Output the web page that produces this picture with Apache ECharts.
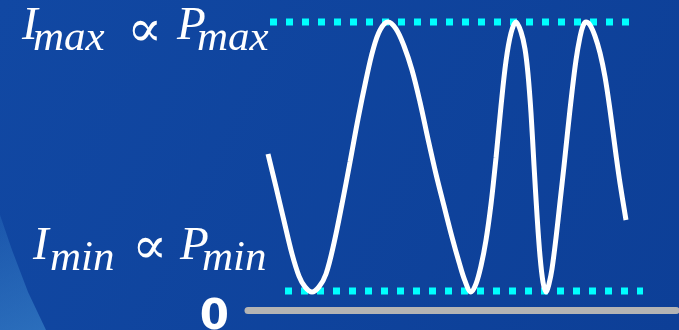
<!DOCTYPE html>
<html>
<head>
<meta charset="utf-8">
<script src="https://cdn.jsdelivr.net/npm/echarts@6/dist/echarts.min.js"></script>
<style>
    html, body { margin: 0; padding: 0; }
    #chart { width: 679px; height: 330px; }
</style>
</head>
<body>
<div id="chart"></div>
<script>
// curve (time and intensity in arbitrary units)
var timeValues = [5, 7, 9, 11, 12.75, 14.25, 16, 17.75, 19.5, 21.5, 23.5, 25.5, 27.5, 29.5, 31.25, 33, 35,
    37, 39, 41, 43, 45, 47, 49, 51, 52.75, 54.25, 55.75,
    57, 58.25, 59.5, 60.75, 62, 63.25, 64.5, 65.75, 67,
    68.25, 69.25, 70, 70.75, 71.5, 72.25, 73, 73.75, 74.5,
    75.25, 76, 77, 78, 79, 80, 81, 82, 83, 83.75, 84.5,
    85.5, 86.75, 88, 89.25, 90.5, 92, 93, 94.5];
var intensityValues = [52, 41, 29.7, 18.7, 11.3, 7.7, 6, 7.7, 12, 22.3, 35.3, 49.3, 63.7, 76.7, 86.7, 93.3, 96,
    93.7, 88, 80, 69.3, 57, 45.3, 34.7, 24.3, 16, 9.7, 6,
    8.7, 14.7, 23.3, 35.3, 50.7, 68, 83, 92.3, 96,
    92.7, 87, 78.7, 65.7, 48.3, 31.7, 18, 9.3, 6,
    8.7, 13.7, 24, 36, 48, 60.7, 72.7, 83.3, 91, 94.7, 96,
    95, 91.3, 85.7, 77.7, 66.7, 51.7, 42.3, 30];

// the two reference levels and how far their dotted lines run
var iMax = 96;
var iMin = 6.3;
var maxSpan = [5.5, 95.5];
var minSpan = [9.25, 98.75];

var yTickLabels = ['0'];

var chart = echarts.init(document.getElementById('chart'));

var curveData = [];
for (var i = 0; i < timeValues.length; i++) {
    curveData.push([timeValues[i], intensityValues[i]]);
}

var serif = 'italic 47px "Liberation Serif"';
var serifSub = 'italic 43px "Liberation Serif"';
var symFont = '52px "DejaVu Serif"';

function piece(text, x, y, font) {
    return {
        type: 'text',
        x: x,
        y: y,
        z: 10,
        style: {
            text: text,
            fill: '#fff',
            font: font,
            align: 'left',
            verticalAlign: 'middle',
            textAlign: 'left',
            textVerticalAlign: 'middle'
        }
    };
}

option = {
    backgroundColor: {
        type: 'linear', x: 0, y: 0, x2: 1, y2: 1,
        colorStops: [
            {offset: 0, color: '#1148a3'},
            {offset: 1, color: '#0d3f97'}
        ]
    },
    grid: {
        left: 248,
        right: 3,
        top: 10,
        bottom: 20,
        containLabel: false,
        outerBoundsMode: 'none'
    },
    xAxis: {
        type: 'value',
        min: 0,
        max: 107,
        axisLine: {show: true, lineStyle: {color: '#b4b4b4', width: 7}},
        axisTick: {show: false},
        axisLabel: {show: false},
        splitLine: {show: false}
    },
    yAxis: {
        type: 'value',
        min: 0,
        max: 100,
        interval: 100,
        axisLine: {show: false},
        axisTick: {show: false},
        splitLine: {show: false},
        axisLabel: {
            color: '#fff',
            fontSize: 42,
            fontWeight: 'bold',
            fontFamily: 'DejaVu Sans',
            margin: 19,
            verticalAlign: 'top',
            lineHeight: 16,
            formatter: function (v) {
                return v === 0 ? yTickLabels[0] : '';
            }
        }
    },
    graphic: [
        {
            type: 'polygon',
            z: 0,
            shape: {points: [[0, 215], [12, 250], [28, 292], [46, 330], [0, 330]]},
            style: {
                fill: {
                    type: 'linear', x: 0, y: 0, x2: 1, y2: 1,
                    colorStops: [
                        {offset: 0, color: 'rgba(70,150,215,0.2)'},
                        {offset: 1, color: 'rgba(70,150,215,0.5)'}
                    ]
                }
            }
        },
        piece('I', 22, 27, serif),
        piece('max', 33, 39, serifSub),
        piece('\u221D', 127, 32, symFont),
        piece('P', 177, 27, serif),
        piece('max', 197, 39, serifSub),
        piece('I', 33, 247, serif),
        piece('min', 50, 259, serifSub),
        piece('\u221D', 132, 249, symFont),
        piece('P', 180, 247, serif),
        piece('min', 202, 259, serifSub)
    ],
    series: [
        {
            name: 'max',
            type: 'line',
            data: [[maxSpan[0], iMax], [maxSpan[1], iMax]],
            symbol: 'none',
            silent: true,
            lineStyle: {color: '#00ffff', width: 7, type: [7, 9]}
        },
        {
            name: 'min',
            type: 'line',
            data: [[minSpan[0], iMin], [minSpan[1], iMin]],
            symbol: 'none',
            silent: true,
            lineStyle: {color: '#00ffff', width: 7, type: [7, 9]}
        },
        {
            name: 'intensity',
            type: 'line',
            data: curveData,
            smooth: 0.35,
            symbol: 'none',
            z: 5,
            lineStyle: {color: '#fff', width: 5}
        }
    ]
};
chart.setOption(option);
</script>
</body>
</html>
